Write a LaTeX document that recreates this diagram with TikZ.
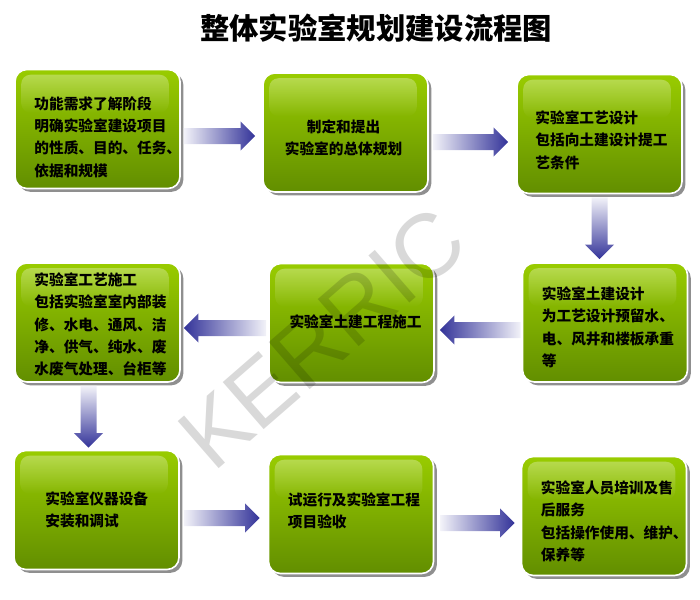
\documentclass[tikz,border=0pt]{standalone}
\usepackage{fontspec}
\newfontfamily\cjk{Noto Sans CJK SC}
\newfontfamily\wmfont{Liberation Sans}
\usetikzlibrary{calc,shadows,fadings}
\definecolor{greentop}{RGB}{153,204,0}
\definecolor{greenbot}{RGB}{98,142,0}
\definecolor{arrowblue}{RGB}{51,51,153}
\tikzset{
  stepbox/.style={rectangle, rounded corners=9pt, minimum width=123.75pt, minimum height=89.25pt,
    top color=greentop, bottom color=greenbot, draw=white, line width=1.2pt,
    drop shadow={shadow xshift=2.5pt, shadow yshift=-2.5pt, fill=black!55, opacity=0.8}},
  steptext/.style={font=\cjk\bfseries\fontsize{11}{16.8}\selectfont, align=left, inner sep=0pt},
  gloss/.style={fill=white, fill opacity=0.3, path fading=south, rounded corners=7pt},
  watermark/.style={font=\wmfont\fontsize{68}{68}\selectfont, text=black, text opacity=0.15, rotate=41}
}
% fat shaded arrow from #1 (tail) to #2 (tip)
\newcommand{\blockarrow}[3]{%
  \coordinate (ab) at ($(#2)!11pt!(#1)$);
  \shade[#3] ($(#1)!6pt!90:(#2)$) -- ($(ab)!6pt!90:(#2)$) -- ($(ab)!11pt!90:(#2)$) -- (#2)
    -- ($(ab)!11pt!-90:(#2)$) -- ($(ab)!6pt!-90:(#2)$) -- ($(#1)!6pt!-90:(#2)$) -- cycle;
}
\begin{document}
\begin{tikzpicture}[x=0.75pt,y=-0.75pt]
  \useasboundingbox (0,0) rectangle (700,600);
  \node[font=\cjk\bfseries\fontsize{22}{26}\selectfont] (title) at (376,28) {整体实验室规划建设流程图};

  % boxes
  \node[stepbox] (b1) at (97.5,129) {};
  \node[stepbox] (b2) at (345.5,132.5) {};
  \node[stepbox] (b3) at (599.5,134) {};
  \node[stepbox] (b4) at (97.5,322.5) {};
  \node[stepbox] (b5) at (351.5,323) {};
  \node[stepbox] (b6) at (605,322.5) {};
  \node[stepbox] (b7) at (96.5,510) {};
  \node[stepbox] (b8) at (351,514) {};
  \node[stepbox] (b9) at (604,516) {};
  \foreach \i in {1,...,9}
    \fill[gloss] ([shift={(7,6)}]b\i.north west) rectangle ([shift={(-12,44)}]b\i.north east);

  % texts
  \node[steptext, anchor=west] (t1) at ($(b1.west)+(20,8)$) {功能需求了解阶段\\明确实验室建设项目\\的性质、目的、任务、\\依据和规模};
  \node[steptext, align=center] (t2) at ($(b2.center)+(-2,5.5)$) {制定和提出\\实验室的总体规划};
  \node[steptext, anchor=west] (t3) at ($(b3.west)+(19,6)$) {实验室工艺设计\\包括向土建设计提工\\艺条件};
  \node[steptext, anchor=west] (t4) at ($(b4.west)+(20,2)$) {实验室工艺施工\\包括实验室室内部装\\修、水电、通风、洁\\净、供气、纯水、废\\水废气处理、台柜等};
  \node[steptext] (t5) at ($(b5.center)+(4,-1)$) {实验室土建工程施工};
  \node[steptext, anchor=west] (t6) at ($(b6.west)+(20,5)$) {实验室土建设计\\为工艺设计预留水、\\电、风井和楼板承重\\等};
  \node[steptext, anchor=west] (t7) at ($(b7.west)+(32,0)$) {实验室仪器设备\\安装和调试};
  \node[steptext, anchor=west] (t8) at ($(b8.west)+(20,-3)$) {试运行及实验室工程\\项目验收};
  \node[steptext, anchor=west] (t9) at ($(b9.west)+(20,5.5)$) {实验室人员培训及售\\后服务\\包括操作使用、维护、\\保养等};

  % arrows
  \coordinate (a1t) at ($(b1.east)+(3,7)$);
  \coordinate (a1h) at ($(a1t -| b2.west)+(-7,0)$);
  \blockarrow{a1t}{a1h}{left color=arrowblue!6, right color=arrowblue}
  \coordinate (a2t) at ($(b2.east)+(4,9.5)$);
  \coordinate (a2h) at ($(a2t -| b3.west)+(-8,0)$);
  \blockarrow{a2t}{a2h}{left color=arrowblue!6, right color=arrowblue}
  \coordinate (a3t) at ($(b3.south)+(0,3)$);
  \coordinate (a3h) at ($(a3t |- b6.north)+(0,-3)$);
  \blockarrow{a3t}{a3h}{top color=arrowblue!6, bottom color=arrowblue}
  \coordinate (a4t) at ($(b6.west)+(-1,7.5)$);
  \coordinate (a4h) at ($(a4t -| b5.east)+(5,0)$);
  \blockarrow{a4t}{a4h}{left color=arrowblue, right color=arrowblue!6}
  \coordinate (a5t) at ($(b5.west)+(-2,5)$);
  \coordinate (a5h) at ($(a5t -| b4.east)+(3,0)$);
  \blockarrow{a5t}{a5h}{left color=arrowblue, right color=arrowblue!6}
  \coordinate (a6t) at ($(b4.south)+(-9,3)$);
  \coordinate (a6h) at ($(a6t |- b7.north)+(0,-2)$);
  \blockarrow{a6t}{a6h}{top color=arrowblue!6, bottom color=arrowblue}
  \coordinate (a7t) at ($(b7.east)+(4,8)$);
  \coordinate (a7h) at ($(a7t -| b8.west)+(-8,0)$);
  \blockarrow{a7t}{a7h}{left color=arrowblue!6, right color=arrowblue}
  \coordinate (a8t) at ($(b8.east)+(6,9)$);
  \coordinate (a8h) at ($(a8t -| b9.west)+(-6,0)$);
  \blockarrow{a8t}{a8h}{left color=arrowblue!6, right color=arrowblue}

  \node[watermark] (wm) at (322,338) {KERRIC};
\end{tikzpicture}
\end{document}
